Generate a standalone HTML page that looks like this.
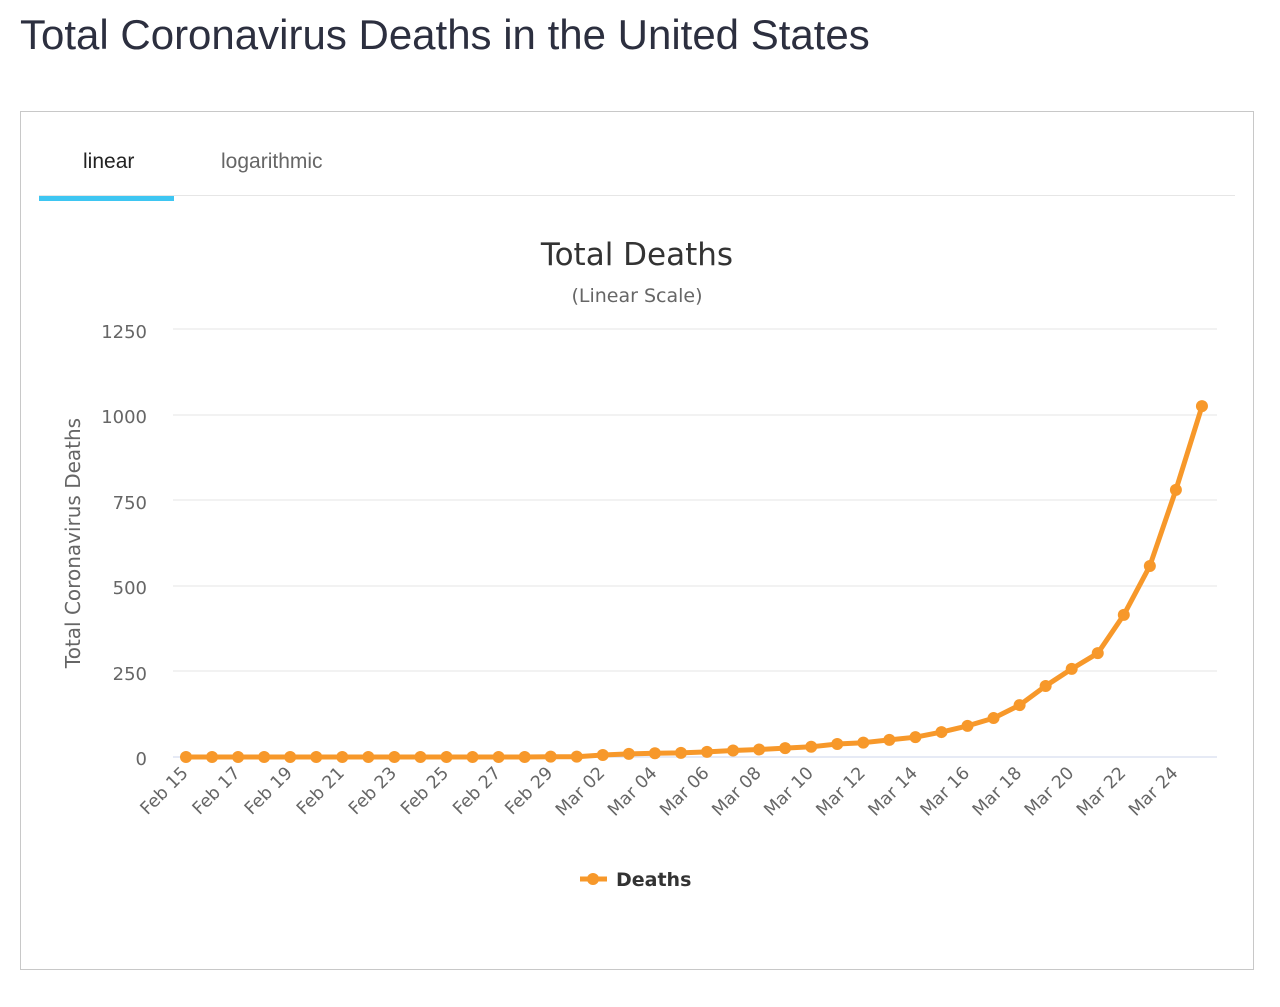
<!DOCTYPE html>
<html><head><meta charset="utf-8"><style>
body{margin:0;background:#fff;width:1280px;height:1007px;overflow:hidden;font-family:"Liberation Sans",sans-serif;}
h1{position:absolute;left:20px;top:11px;margin:0;font-size:42px;font-weight:normal;color:#2c2f3f;}
.box{position:absolute;left:20px;top:111px;width:1234px;height:859px;border:1px solid #c8c8c8;box-sizing:border-box;}
.tab{position:absolute;top:150px;font-size:21px;color:#333;}
</style></head><body>
<h1>Total Coronavirus Deaths in the United States</h1>
<div class="box"></div>
<div class="tab" style="left:83px;color:#222">linear</div>
<div class="tab" style="left:221px;color:#666">logarithmic</div>
<div style="position:absolute;left:39px;top:196px;width:135px;height:5px;background:#3ec6f2"></div>
<div style="position:absolute;left:39px;top:195px;width:1196px;height:1px;background:#e6e6e6"></div>
<svg width="1280" height="1007" style="position:absolute;left:0;top:0" font-family="DejaVu Sans, sans-serif">
<text x="637" y="265" text-anchor="middle" font-size="31" fill="#333">Total Deaths</text>
<text x="637" y="302" text-anchor="middle" font-size="19" fill="#666">(Linear Scale)</text>
<g stroke="#e6e6e6" stroke-width="1">
<line x1="173" x2="1217" y1="329" y2="329"/><line x1="173" x2="1217" y1="415" y2="415"/>
<line x1="173" x2="1217" y1="500" y2="500"/><line x1="173" x2="1217" y1="586" y2="586"/>
<line x1="173" x2="1217" y1="671" y2="671"/></g>
<line x1="173" x2="1217" y1="757" y2="757" stroke="#ccd6eb"/>
<g font-size="18" fill="#666" text-anchor="end">
<text x="147" y="338">1250</text><text x="147" y="423">1000</text><text x="147" y="509">750</text>
<text x="147" y="594">500</text><text x="147" y="680">250</text><text x="147" y="765">0</text></g>
<text transform="translate(80,543) rotate(-90)" text-anchor="middle" font-size="20" fill="#666">Total Coronavirus Deaths</text>
<g id="xl" font-size="17.5" fill="#666" text-anchor="end"></g>
<polyline id="ln" fill="none" stroke="#f7982a" stroke-width="5" stroke-linejoin="round"/>
<g id="pts" fill="#f7982a"></g>
<line x1="580" x2="607" y1="879" y2="879" stroke="#f7982a" stroke-width="5"/>
<circle cx="593" cy="879" r="6" fill="#f7982a"/>
<text x="616" y="886" font-size="19" font-weight="bold" fill="#333">Deaths</text>
</svg>
<script>
var d=[0,0,0,0,0,0,0,0,0,0,0,0,0,0,1,1,6,9,11,12,15,19,22,26,30,38,42,50,58,73,91,114,152,208,258,304,416,559,782,1027];
var pts=[],g=document.getElementById('pts'),xl=document.getElementById('xl'),ns='http://www.w3.org/2000/svg';
var lab=['Feb 15','Feb 17','Feb 19','Feb 21','Feb 23','Feb 25','Feb 27','Feb 29','Mar 02','Mar 04','Mar 06','Mar 08','Mar 10','Mar 12','Mar 14','Mar 16','Mar 18','Mar 20','Mar 22','Mar 24'];
for(var i=0;i<d.length;i++){var x=186+i*26.05,y=757-d[i]*0.3416;pts.push(x.toFixed(1)+','+y.toFixed(1));
var c=document.createElementNS(ns,'circle');c.setAttribute('cx',x);c.setAttribute('cy',y);c.setAttribute('r',6);g.appendChild(c);
if(i%2==0){var t=document.createElementNS(ns,'text');t.setAttribute('transform','translate('+(x+3)+',774) rotate(-45)');t.textContent=lab[i/2];xl.appendChild(t);}}
document.getElementById('ln').setAttribute('points',pts.join(' '));
</script>
</body></html>
